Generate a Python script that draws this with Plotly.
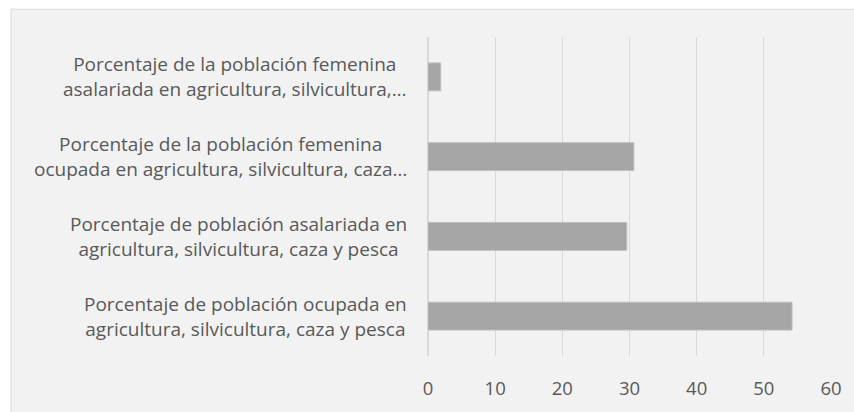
import plotly.graph_objects as go

categories = [
    "Porcentaje de población ocupada en<br>agricultura, silvicultura, caza y pesca",
    "Porcentaje de población asalariada en<br>agricultura, silvicultura, caza y pesca",
    "Porcentaje de la población femenina<br>ocupada en agricultura, silvicultura, caza…",
    "Porcentaje de la población femenina<br>asalariada en agricultura, silvicultura,…",
]
values = [54.2, 29.6, 30.65, 1.9]
x_ticks = [0, 10, 20, 30, 40, 50, 60]

TEXT = "#595959"
FONT = "Open Sans"

fig = go.Figure()
fig.add_trace(go.Bar(
    y=categories, x=values, orientation="h", width=0.35,
    marker=dict(color="#a5a5a5", line=dict(color="#bfbfbf", width=1)),
    hoverinfo="x",
))

L, R, T, B = 428, 23, 37, 54
W, H = 854, 412
pw = W - L - R
ph = H - T - B

fig.add_shape(type="rect", xref="paper", yref="paper", layer="below",
              x0=(11 - L) / pw, x1=(W + 20 - L) / pw,
              y0=-(H + 20 - (H - B)) / ph, y1=((H - B) - 9) / ph,
              fillcolor="#f2f2f2", line=dict(color="#d9d9d9", width=1))

for c in categories:
    fig.add_annotation(x=(409 - L) / pw, xref="paper", y=c, yref="y",
                       text=c, showarrow=False, xanchor="right", yanchor="middle",
                       align="center", font=dict(family=FONT, size=19, color=TEXT))

fig.update_layout(
    width=W, height=H,
    margin=dict(l=L, r=R, t=T, b=B, pad=0),
    paper_bgcolor="white", plot_bgcolor="rgba(0,0,0,0)",
    showlegend=False, bargap=0.65,
    font=dict(family=FONT, size=18.5, color=TEXT),
    xaxis=dict(range=[0, 60], tickvals=x_ticks, showgrid=True, gridcolor="#d9d9d9",
               gridwidth=1, zeroline=True, zerolinecolor="#d9d9d9", zerolinewidth=1,
               showline=False, ticks="outside", ticklen=16, tickcolor="rgba(0,0,0,0)",
               tickfont=dict(family=FONT, size=18.5, color=TEXT), fixedrange=True),
    yaxis=dict(categoryorder="array", categoryarray=categories, showticklabels=False,
               showgrid=False, zeroline=False, showline=True, linecolor="#d9d9d9",
               fixedrange=True),
)

fig.write_html("out.html", config={"displayModeBar": False},
               post_script="document.body.style.margin='0px';")
